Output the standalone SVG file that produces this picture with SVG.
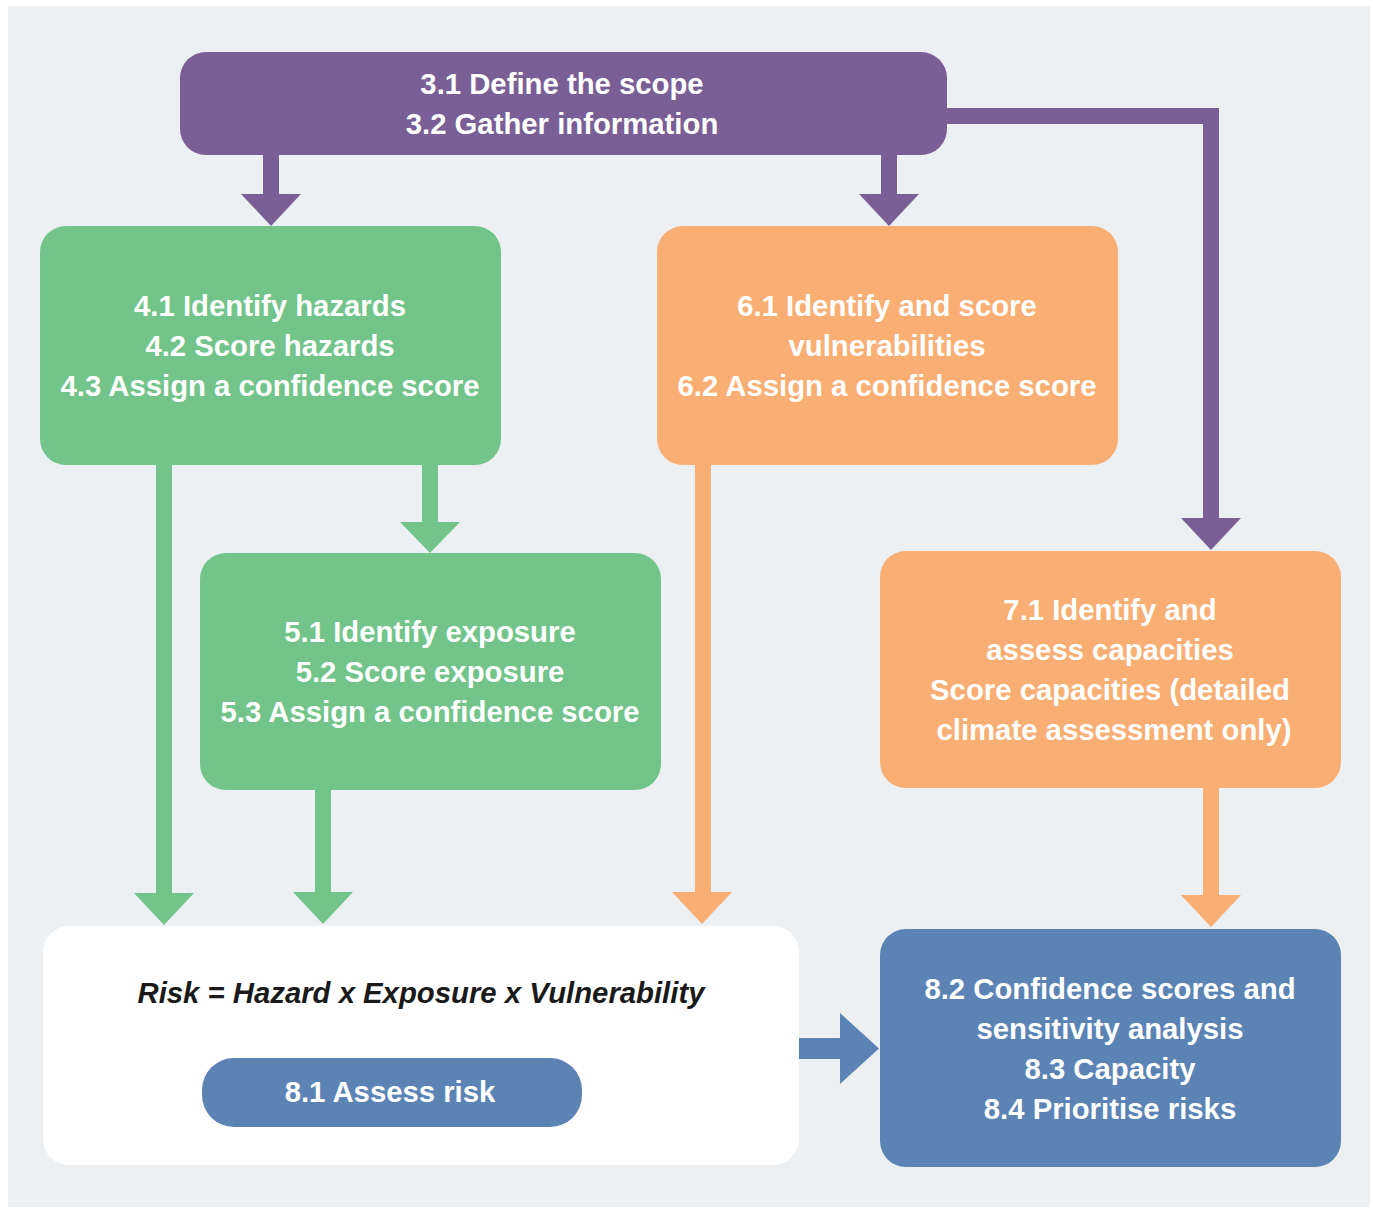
<svg xmlns="http://www.w3.org/2000/svg" width="1373" height="1209" viewBox="0 0 1373 1209">
<style>
.t{font-family:"Liberation Sans",Arial,sans-serif;font-weight:bold;font-size:29.3px;fill:#ffffff;text-anchor:middle}
.r{font-family:"Liberation Sans",Arial,sans-serif;font-weight:bold;font-style:italic;font-size:29.3px;fill:#1a1a1a;text-anchor:middle}
.pu{fill:#7A5F96}.gr{fill:#72C48A}.or{fill:#F9AE73}.bl{fill:#5B84B5}
</style>
<rect x="0" y="0" width="1373" height="1209" fill="#ffffff"/>
<rect x="8" y="6" width="1362" height="1201" fill="#ECF0F3"/>
<g id="connectors">
  <polygon class="pu" points="263,150 279,150 279,194 301,194 271,226 241,194 263,194"/>
  <polygon class="pu" points="881,150 897,150 897,194 919,194 889,226 859,194 881,194"/>
  <polygon class="pu" points="940,108 1219,108 1219,518 1241,518 1211,550 1181,518 1203,518 1203,124 940,124"/>
  <polygon class="gr" points="156,460 172,460 172,893 194,893 164,925 134,893 156,893"/>
  <polygon class="gr" points="422,460 438,460 438,522 460,522 430,553 400,522 422,522"/>
  <polygon class="gr" points="315,785 331,785 331,892 353,892 323,924 293,892 315,892"/>
  <polygon class="or" points="695,460 711,460 711,892 732,892 702,924 672,892 695,892"/>
  <polygon class="or" points="1203,783 1219,783 1219,895 1241,895 1211,927 1181,895 1203,895"/>
  <polygon class="bl" points="799,1038 840,1038 840,1013 879,1048.5 840,1084 840,1059 799,1059"/>
</g>
<g id="n31">
  <rect class="pu" x="180" y="52" width="767" height="103" rx="26"/>
  <text class="t" x="562" y="94">3.1 Define the scope</text>
  <text class="t" x="562" y="134">3.2 Gather information</text>
</g>
<g id="n41">
  <rect class="gr" x="40" y="226" width="461" height="239" rx="26"/>
  <text class="t" x="270" y="316">4.1 Identify hazards</text>
  <text class="t" x="270" y="356">4.2 Score hazards</text>
  <text class="t" x="270" y="396">4.3 Assign a confidence score</text>
</g>
<g id="n61">
  <rect class="or" x="657" y="226" width="461" height="239" rx="26"/>
  <text class="t" x="887" y="316">6.1 Identify and score</text>
  <text class="t" x="887" y="356">vulnerabilities</text>
  <text class="t" x="887" y="396">6.2 Assign a confidence score</text>
</g>
<g id="n51">
  <rect class="gr" x="200" y="553" width="461" height="237" rx="26"/>
  <text class="t" x="430" y="642">5.1 Identify exposure</text>
  <text class="t" x="430" y="682">5.2 Score exposure</text>
  <text class="t" x="430" y="722">5.3 Assign a confidence score</text>
</g>
<g id="n71">
  <rect class="or" x="880" y="551" width="461" height="237" rx="26"/>
  <text class="t" x="1110" y="620">7.1 Identify and</text>
  <text class="t" x="1110" y="660">assess capacities</text>
  <text class="t" x="1110" y="700">Score capacities (detailed</text>
  <text class="t" x="1114" y="740">climate assessment only)</text>
</g>
<g id="nrisk">
  <rect x="43" y="926" width="756" height="239" rx="26" fill="#ffffff"/>
  <text class="r" x="421" y="1003">Risk = Hazard x Exposure x Vulnerability</text>
</g>
<g id="n81">
  <rect class="bl" x="202" y="1058" width="380" height="69" rx="32"/>
  <text class="t" x="390" y="1102">8.1 Assess risk</text>
</g>
<g id="n82">
  <rect class="bl" x="880" y="929" width="461" height="238" rx="26"/>
  <text class="t" x="1110" y="999">8.2 Confidence scores and</text>
  <text class="t" x="1110" y="1039">sensitivity analysis</text>
  <text class="t" x="1110" y="1079">8.3 Capacity</text>
  <text class="t" x="1110" y="1119">8.4 Prioritise risks</text>
</g>
</svg>
